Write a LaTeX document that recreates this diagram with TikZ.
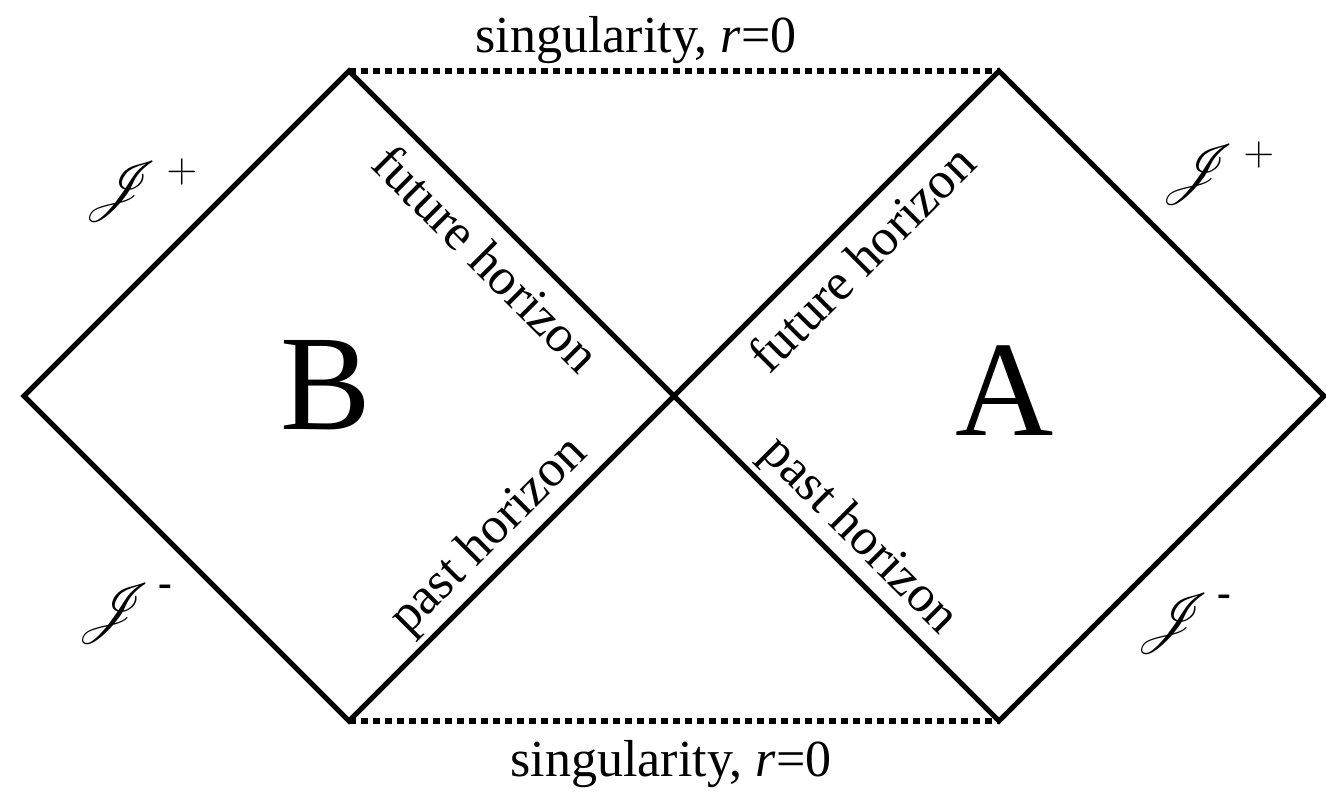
\documentclass[tikz,border=0pt]{standalone}
\usepackage{amsmath}
\usepackage{mathrsfs}
\usepackage{fontspec}
\setmainfont{Liberation Serif}
\newcommand{\scri}{\mathscr{J}}
\newcommand{\scrminus}{\raisebox{0.2em}{\bfseries -}}

\begin{document}
\begin{tikzpicture}[x=1pt,y=1pt,
  wall/.style={line width=5pt,line join=miter},
  singular/.style={line width=6pt,dash pattern=on 6.5pt off 5.5pt},
  lbl/.style={font=\fontsize{52}{52}\selectfont},
  hz/.style={lbl,midway,sloped,inner sep=14pt},
  big/.style={font=\fontsize{136}{136}\selectfont},
  scr/.style={scale=2.45,font=\fontsize{24}{24}\selectfont}]
\fill[white] (0,0) rectangle (1326,801);
\useasboundingbox (0,0) rectangle (1326,801);
\coordinate (X) at (674,405);
\coordinate (L) at (24,405);
\coordinate (TL) at (349,730);
\coordinate (BL) at (349,80);
\coordinate (R) at (1324,405);
\coordinate (TR) at (999,730);
\coordinate (BR) at (999,80);
\draw[wall] (BL) -- (X) node[hz,above,inner sep=5pt] (pastB) {past horizon}
  -- (TL) node[hz,below] (futB) {future horizon} -- (L) -- cycle;
\draw[wall] (BR) -- (R) -- (TR) -- (X) node[hz,below] (futA) {future horizon}
  -- (BR) node[hz,above,inner sep=5pt] (pastA) {past horizon} -- cycle;
\draw[singular] (TL) -- (TR);
\draw[singular] (BL) -- (BR);
\node[lbl] (singtop) at (636,761) {singularity, \textit{r}=0};
\node[lbl] (singbot) at (671,37) {singularity, \textit{r}=0};
\node[big] (regB) at (326,416) {B};
\node[big] (regA) at (1005,410) {A};
\node[scr] (scriTL) at (141,611) {$\scri^{\,+}$};
\node[scr] (scriTR) at (1218,628) {$\scri^{\,+}$};
\node[scr] (scriBL) at (125,187) {$\scri^{\,\text{\scrminus}}$};
\node[scr] (scriBR) at (1184,177) {$\scri^{\,\text{\scrminus}}$};
\end{tikzpicture}
\end{document}
